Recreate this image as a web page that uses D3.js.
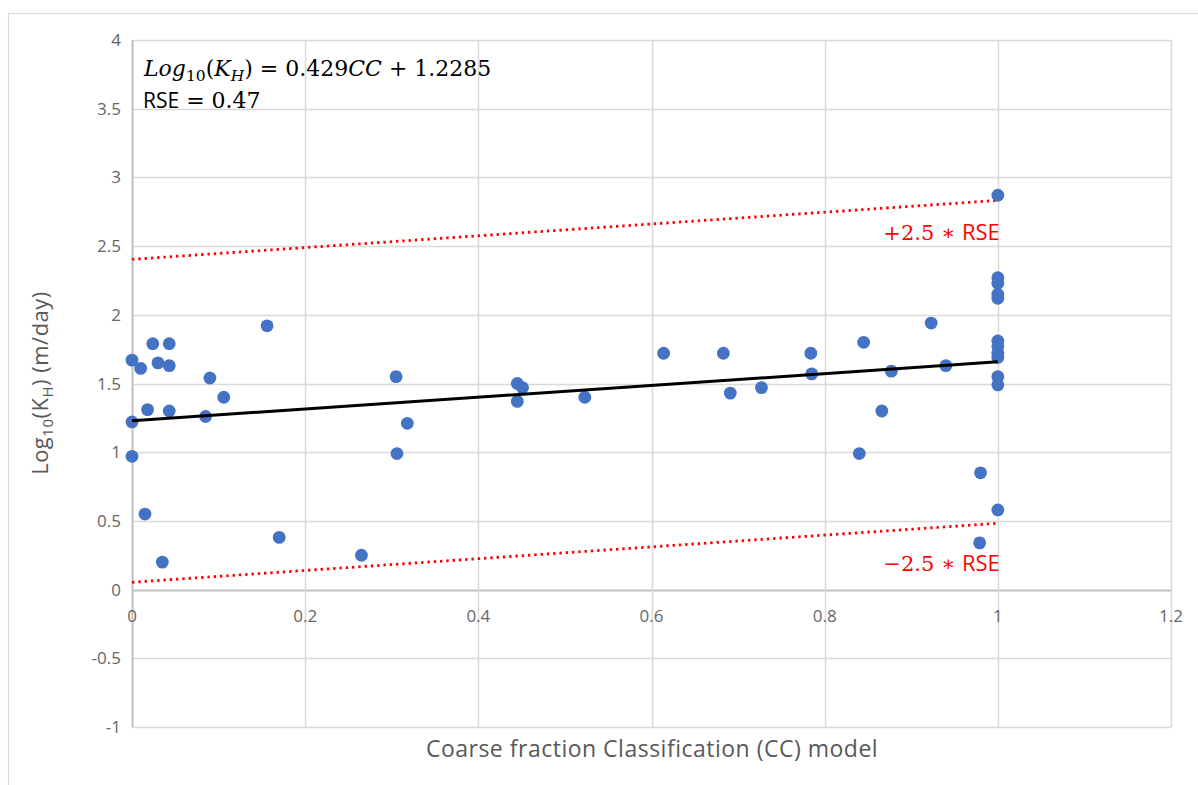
<!DOCTYPE html>
<html><head><meta charset="utf-8">
<script src="https://cdn.jsdelivr.net/npm/d3@7"></script>
<style>body{margin:0;background:#fff;} svg{display:block;}</style>
</head><body>
<svg id="c" width="1198" height="785"></svg>
<script>
// Data
const ccValues = [0,0.01,0.024,0.043,0.03,0.043,0.018,0.043,0,0,0.015,0.035,0.09,0.085,0.106,0.156,0.17,0.265,0.305,0.306,0.318,0.445,0.451,0.445,0.523,0.614,0.683,0.691,0.727,0.784,0.785,0.845,0.84,0.866,0.877,0.923,0.94,0.98,0.979,1,1,1,1,1,1,1,1,1,1,1,1];
const logKValues = [1.67,1.61,1.79,1.79,1.65,1.63,1.31,1.30,1.22,0.97,0.55,0.20,1.54,1.26,1.40,1.92,0.38,0.25,1.55,0.99,1.21,1.50,1.47,1.37,1.40,1.72,1.72,1.43,1.47,1.72,1.57,1.80,0.99,1.30,1.59,1.94,1.63,0.85,0.34,2.87,2.27,2.23,2.15,2.12,1.81,1.77,1.72,1.69,1.55,1.49,0.58];
const xTicks = [0,0.2,0.4,0.6,0.8,1,1.2];
const yTicks = [-1,-0.5,0,0.5,1,1.5,2,2.5,3,3.5,4];
const slope = 0.429, intercept = 1.2285, rse = 0.47, band = 2.5;
const fitRange = [0,1];

const svg = d3.select("#c");
const x = d3.scaleLinear().domain([0,1.2]).range([132,1171]);
const y = d3.scaleLinear().domain([-1,4]).range([727,40]);

// outer chart border
svg.append("rect").attr("x",8.5).attr("y",13.5).attr("width",1200).attr("height",800)
  .attr("fill","none").attr("stroke","#d9d9d9").attr("stroke-width",1.2);

const grid = svg.append("g");
grid.selectAll("line.h").data(yTicks).join("line")
  .attr("x1",x(0)).attr("x2",x(1.2)).attr("y1",d=>Math.round(y(d))+0.5).attr("y2",d=>Math.round(y(d))+0.5)
  .attr("stroke",d=>d===0?"#bfbfbf":"#d9d9d9").attr("stroke-width",d=>d===0?2:1.5);
grid.selectAll("line.v").data(xTicks).join("line")
  .attr("y1",y(-1)).attr("y2",y(4)).attr("x1",d=>Math.round(x(d))+0.5).attr("x2",d=>Math.round(x(d))+0.5)
  .attr("stroke",d=>d===0?"#bfbfbf":"#d9d9d9").attr("stroke-width",d=>d===0?2:1.5);

// tick labels
const sans = "'Open Sans', 'Liberation Sans', sans-serif";
svg.append("g").selectAll("text").data(yTicks).join("text")
  .attr("x",121).attr("y",d=>y(d)+6).attr("text-anchor","end")
  .attr("font-family",sans).attr("font-size",17).attr("fill","#666")
  .text(d=>String(d));
svg.append("g").selectAll("text").data(xTicks).join("text")
  .attr("x",d=>x(d)).attr("y",y(0)+32).attr("text-anchor","middle")
  .attr("font-family",sans).attr("font-size",17).attr("fill","#666")
  .text(d=>String(d));

// bands and fit line
const lineGen = d3.line().x(d=>x(d[0])).y(d=>y(d[1]));
const fit = fitRange.map(c=>[c, slope*c+intercept]);
const upper = fitRange.map(c=>[c, slope*c+intercept+band*rse]);
const lower = fitRange.map(c=>[c, slope*c+intercept-band*rse]);
[upper,lower].forEach(p=>{
  svg.append("path").attr("d",lineGen(p)).attr("fill","none")
    .attr("stroke","#ff0000").attr("stroke-width",2.8).attr("stroke-dasharray","2.4,3.9");
});

// points
svg.append("g").selectAll("circle").data(ccValues.map((c,i)=>[c,logKValues[i]])).join("circle")
  .attr("cx",d=>x(d[0])).attr("cy",d=>y(d[1])).attr("r",6.4).attr("fill","#4472c4");

svg.append("path").attr("d",lineGen(fit)).attr("fill","none").attr("stroke","#000").attr("stroke-width",3);

// band labels
const serif = "'DejaVu Serif','Liberation Serif',serif";
function bandLabel(sign, yy){
  const t = svg.append("text").attr("x",x(1)+2).attr("y",yy).attr("text-anchor","end")
    .attr("font-size",21).attr("fill","#ff0000");
  t.append("tspan").attr("font-family",serif).text(sign+"2.5 ∗ ");
  t.append("tspan").attr("font-family",sans).attr("font-size",22).text("RSE");
}
bandLabel("+",240);
bandLabel("−",571);

// equation
const eq = svg.append("text").attr("x",144).attr("y",76).attr("font-family",serif).attr("font-size",22).attr("fill","#000");
eq.append("tspan").attr("font-style","italic").text("Log");
eq.append("tspan").attr("font-size",15.5).attr("dy",5).text("10");
eq.append("tspan").attr("dy",-5).text("(");
eq.append("tspan").attr("font-style","italic").text("K");
eq.append("tspan").attr("font-style","italic").attr("font-size",15.5).attr("dy",5).text("H");
eq.append("tspan").attr("dy",-5).text(")");
eq.append("tspan").attr("dx",7).text("=");
eq.append("tspan").attr("dx",7).text("0.429");
eq.append("tspan").attr("font-style","italic").text("CC");
eq.append("tspan").attr("dx",7).text("+");
eq.append("tspan").attr("dx",7).text("1.2285");
const r = svg.append("text").attr("x",143).attr("y",108).attr("font-size",22).attr("fill","#000");
r.append("tspan").attr("font-family",sans).attr("font-size",21).text("RSE");
r.append("tspan").attr("font-family",serif).attr("dx",7).text("=");
r.append("tspan").attr("font-family",serif).attr("dx",7).text("0.47");

// axis titles
const yt = svg.append("text").attr("transform","translate(48,383) rotate(-90)").attr("text-anchor","middle")
  .attr("font-family",sans).attr("font-size",22).attr("letter-spacing",0.5).attr("fill","#595959");
yt.append("tspan").text("Log");
yt.append("tspan").attr("font-size",15).attr("dy",5).text("10");
yt.append("tspan").attr("dy",-5).text("(K");
yt.append("tspan").attr("font-size",15).attr("dy",5).text("H");
yt.append("tspan").attr("dy",-5).text(") (m/day)");

svg.append("text").attr("x",652).attr("y",757).attr("text-anchor","middle")
  .attr("font-family",sans).attr("font-size",23).attr("letter-spacing",0.5).attr("fill","#595959")
  .text("Coarse fraction Classification (CC) model");
</script>
</body></html>
